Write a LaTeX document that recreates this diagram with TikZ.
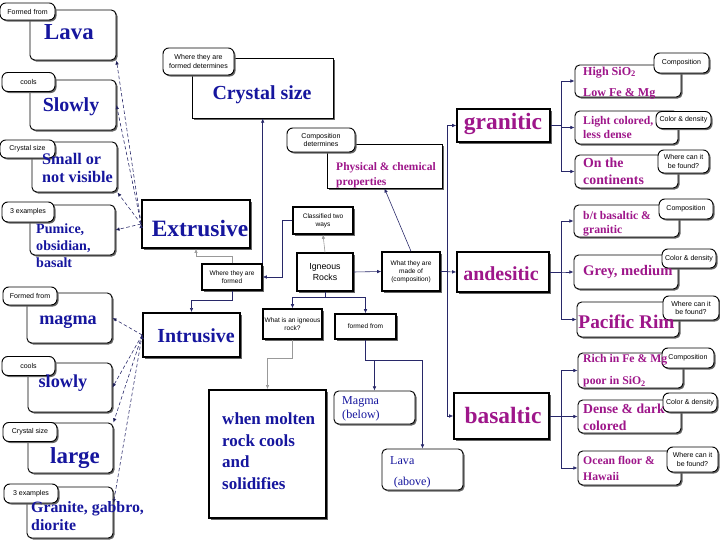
\documentclass[tikz,border=0pt]{standalone}
\usepackage{fontspec}
\setmainfont{Liberation Serif}
\setsansfont{Liberation Sans}
\usepackage{xcolor}
\usetikzlibrary{shadows, arrows.meta}
\definecolor{conceptblue}{RGB}{22,22,158}
\definecolor{rockpink}{RGB}{158,22,138}
\definecolor{linknavy}{RGB}{40,40,105}
\newcommand\fs[2]{\fontsize{#1}{#2}\selectfont\bfseries}
\tikzset{
  shd/.style={drop shadow={shadow xshift=1.3pt, shadow yshift=-1.3pt, fill=black!60, opacity=1}},
  rbox/.style 2 args={draw, fill=white, line width=0.8pt, rounded corners=4pt, shd,
    inner sep=0pt, minimum width=#1*0.03cm, minimum height=#2*0.03cm},
  sqbox/.style 2 args={draw, fill=white, line width=0.8pt, shd,
    inner sep=0pt, minimum width=#1*0.03cm, minimum height=#2*0.03cm},
  thbox/.style 2 args={sqbox={#1}{#2}, line width=1.5pt},
  mbox/.style 2 args={sqbox={#1}{#2}, line width=1.2pt, align=center,
    font=\sffamily\fontsize{5.6}{6.8}\selectfont},
  tag/.style 2 args={rbox={#1}{#2}, rounded corners=5pt, align=center,
    font=\sffamily\fontsize{6}{7.5}\selectfont},
  btxt/.style={inner sep=0pt, text=conceptblue},
  ptxt/.style={inner sep=0pt, text=rockpink},
  link/.style={draw=linknavy, line width=0.5pt, -{Latex[length=3.5pt,width=3pt]}},
  dlink/.style={link, densely dashed},
  glink/.style={link, draw=black!40}
}
\begin{document}
\begin{tikzpicture}[x=0.03cm, y=-0.03cm]
\useasboundingbox (0,0) rectangle (720,540);

% left column, extrusive side
\node[rbox={86}{50}] (lava) at (73,35) {};
\node[rbox={86}{50}] (slw1) at (73,105) {};
\node[rbox={85}{50}] (sml) at (74.5,167) {};
\node[rbox={85}{50}] (pum) at (72.5,230) {};
% left column, intrusive side
\node[rbox={85}{50}] (mag) at (69.5,318) {};
\node[rbox={84}{49}] (slw2) at (70,387.5) {};
\node[rbox={85}{50}] (lrg) at (70.5,448) {};
\node[rbox={86}{51}] (gra) at (70,512.5) {};

\node[tag={55}{17}] (lavaT) at (27.5,11.5) {Formed from};
\node[tag={53}{19}] (slw1T) at (28.5,82) {cools};
\node[tag={55}{18}] (smlT) at (27.5,149) {Crystal size};
\node[tag={52}{20}] (pumT) at (28,212) {3 examples};
\node[tag={54}{18}] (magT) at (30,296) {Formed from};
\node[tag={53}{19}] (slw2T) at (28.5,366) {cools};
\node[tag={54}{19}] (lrgT) at (30,432) {Crystal size};
\node[tag={54}{19}] (graT) at (31,493.5) {3 examples};

\node[btxt, font={\fs{19.5}{22}}] (lavaX) at (69,32) {Lava};
\node[btxt, font={\fs{17}{20}}] (slw1X) at (71,107) {Slowly};
\node[btxt, anchor=west, align=left, font={\fs{13.8}{16}}] (smlX) at (42,168) {Small or\\not visible};
\node[btxt, anchor=west, align=left, font={\fs{12}{14.5}}] (pumX) at (36,246) {Pumice,\\obsidian,\\basalt};
\node[btxt, font={\fs{15.5}{18}}] (magX) at (68,322) {magma};
\node[btxt, font={\fs{15.6}{18}}] (slw2X) at (63,383) {slowly};
\node[btxt, font={\fs{19.6}{22}}] (lrgX) at (75,458) {large};
\node[btxt, anchor=west, align=left, font={\fs{13.5}{15.3}}] (graX) at (31,516) {Granite, gabbro,\\diorite};

% middle
\node[sqbox={141}{60}] (crys) at (262.5,88) {};
\node[tag={71}{27}] (crysT) at (198.5,61.5) {Where they are\\formed determines};
\node[btxt, font={\fs{17}{20}}] (crysX) at (262,95) {Crystal size};

\node[sqbox={115}{44}] (pcp) at (384.5,166) {};
\node[tag={68}{24}] (pcpT) at (321,140) {Composition\\determines};
\node[ptxt, anchor=west, align=left, font={\fs{9.8}{12.8}}] (pcpX) at (336,175.5) {Physical \& chemical\\properties};

\node[thbox={108}{48}] (ext) at (196,224) {};
\node[btxt, font={\fs{20}{24}}] (extX) at (200,229) {Extrusive};
\node[thbox={97}{44}] (intr) at (191.5,335) {};
\node[btxt, font={\fs{17}{20}}] (intrX) at (196,336) {Intrusive};

\node[mbox={60}{26}] (wtf) at (232,277) {Where they are\\formed};
\node[mbox={60}{27}] (ctw) at (323,220.5) {Classified two\\ways};
\node[mbox={56}{38}, font=\sffamily\fontsize{7.5}{9.5}\selectfont] (ign) at (325,272) {Igneous\\Rocks};
\node[mbox={58}{39}] (wmo) at (411,271.5) {What they are\\made of\\(composition)};
\node[mbox={59}{30}] (wir) at (292.5,324) {What is an igneous\\rock?};
\node[mbox={61}{25}] (ffr) at (365.5,326.5) {formed from};

\node[thbox={117}{128}] (wmr) at (267.5,454) {};
\node[btxt, anchor=west, align=left, font={\fs{14.5}{18.4}}] (wmrX) at (222,451) {when molten\\rock cools\\and\\solidifies};

\node[rbox={81}{33}] (mgb) at (374.5,407.5) {};
\node[anchor=west, align=left, inner sep=0pt, text=conceptblue, font={\fontsize{10.3}{12}\selectfont}] (mgbX) at (342,408.5) {Magma\\(below)};
\node[rbox={81}{41}] (lvb) at (422.5,469.5) {};
\node[anchor=west, align=left, inner sep=0pt, text=conceptblue, font={\fontsize{10.3}{12}\selectfont}] (lvbX) at (390,472) {Lava\\[6pt]\hspace{3pt}(above)};

% composition types
\node[sqbox={93}{33}, line width=1.2pt] (gnt) at (503.5,125.5) {};
\node[ptxt, font={\fs{20}{24}}] (gntX) at (503,124) {granitic};
\node[sqbox={92}{40}, line width=1.2pt] (and) at (503,272) {};
\node[ptxt, font={\fs{17}{20}}] (andX) at (501,274) {andesitic};
\node[sqbox={95}{46}, line width=1.2pt] (bas) at (501.5,416) {};
\node[ptxt, font={\fs{20}{24}}] (basX) at (503,415) {basaltic};

% right column
\node[rbox={106}{32}] (r11) at (628,81) {};
\node[rbox={103}{33}] (r12) at (626.5,127.5) {};
\node[rbox={103}{33}] (r13) at (626.5,171.5) {};
\node[rbox={105}{32}] (r21) at (626.5,221) {};
\node[rbox={104}{34}] (r22) at (626,272) {};
\node[rbox={102}{35}] (r23) at (628,319.5) {};
\node[rbox={105}{35}] (r31) at (630.5,370.5) {};
\node[rbox={103}{33}] (r32) at (629.5,416.5) {};
\node[rbox={103}{34}] (r33) at (629.5,468) {};

\node[tag={55}{20}] (r11T) at (681.5,63) {Composition};
\node[tag={55}{17}] (r12T) at (683.5,120) {Color \& density};
\node[tag={51}{23}] (r13T) at (683.5,161.5) {Where can it\\be found?};
\node[tag={54}{20}] (r21T) at (686,209) {Composition};
\node[tag={54}{19}] (r22T) at (689,258.5) {Color \& density};
\node[tag={56}{24}] (r23T) at (691,308) {Where can it\\be found?};
\node[tag={52}{20}] (r31T) at (688,358) {Composition};
\node[tag={54}{19}] (r32T) at (690,402.5) {Color \& density};
\node[tag={51}{25}] (r33T) at (692.5,459.5) {Where can it\\be found?};

\node[ptxt, anchor=west, align=left, font={\fs{10.3}{18.3}}] (r11X) at (583,83) {High SiO\textsubscript{2}\\Low Fe \& Mg};
\node[ptxt, anchor=west, align=left, font={\fs{10}{12.3}}] (r12X) at (583,127.5) {Light colored,\\less dense};
\node[ptxt, anchor=west, align=left, font={\fs{11.8}{14.5}}] (r13X) at (583,171) {On the\\continents};
\node[ptxt, anchor=west, align=left, font={\fs{10}{12}}] (r21X) at (583,223.5) {b/t basaltic \&\\granitic};
\node[ptxt, anchor=west, font={\fs{12.5}{15}}] (r22X) at (583,272) {Grey, medium};
\node[ptxt, font={\fs{16.5}{19}}] (r23X) at (626.5,322) {Pacific Rim};
\node[ptxt, anchor=west, align=left, font={\fs{10}{18.7}}] (r31X) at (583,371) {Rich in Fe \& Mg\\poor in SiO\textsubscript{2}};
\node[ptxt, anchor=west, align=left, font={\fs{11.7}{14.5}}] (r32X) at (583,417.5) {Dense \& dark\\colored};
\node[ptxt, anchor=west, align=left, font={\fs{10}{13.2}}] (r33X) at (583,468.5) {Ocean floor \&\\Hawaii};

% connectors
\draw[glink] (ign.north) -- (ctw.south);
\draw[link] (ign.east) -- (wmo.west);
\draw[link] (ctw.west) -- ++(-10,0) |- (wtf.east);
\draw[link] (wtf.north east) -- (wtf.north east |- crys.south);
\draw[glink] (wtf.north) -- ++(0,-7) -| (ext.south);
\draw[link] (wtf.south) -- ++(0,10) -| (intr.north);
\draw[link] (ign.south) -- ++(0,6) -| (wir.north);
\draw[link] (ign.south) -- ++(0,6) -| (ffr.north);
\draw[glink] (wir.south) -- ++(0,19) -| (wmr.north);
\draw[link] (ffr.south) -- ++(0,21) -| (mgb.north);
\draw[link] (ffr.south) -- ++(0,21) -| (lvb.north);
\draw[link] (wmo.north) -- (pcp.south);
\draw[link] (wmo.east) -- (and.west);
\draw[link] (wmo.east) -- ++(7,0) |- (gnt.west);
\draw[link] (wmo.east) -- ++(7,0) |- (bas.west);

\foreach \t in {r11, r12, r13}
  \draw[link] (gnt.east) -- ++(11,0) |- (\t.west);
\foreach \t in {r21, r22, r23}
  \draw[link] (and.east) -- ++(12,0) |- (\t.west);
\foreach \t in {r31, r32, r33}
  \draw[link] (bas.east) -- ++(12,0) |- (\t.west);

\path[dlink] (ext.west) edge (lava.south east)
                        edge (slw1.east)
                        edge (sml.south east)
                        edge (pum.east);
\path[dlink] (intr.west) edge (mag.east)
                         edge (slw2.east)
                         edge (lrg.north east)
                         edge ([yshift=8pt]gra.east);
\end{tikzpicture}
\end{document}
